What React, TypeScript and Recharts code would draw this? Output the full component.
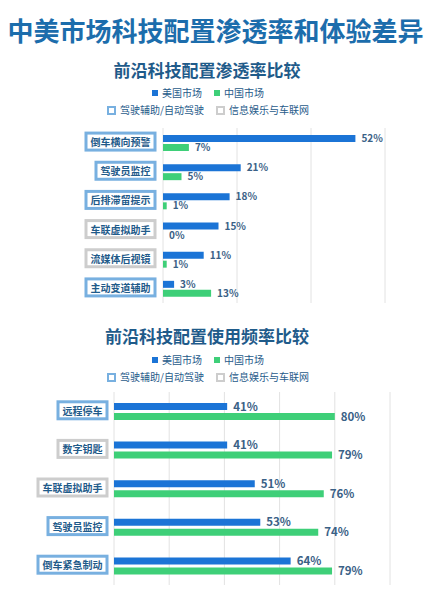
import React from "react"
import { BarChart, Bar, XAxis, YAxis, CartesianGrid, LabelList } from "recharts"

// 渗透率
const penetrationCats = ["倒车横向预警", "驾驶员监控", "后排滞留提示", "车联虚拟助手", "流媒体后视镜", "主动变道辅助"]
const penetrationTypes = ["adas", "adas", "adas", "info", "info", "adas"]
const penetrationUS = [52, 21, 18, 15, 11, 3]
const penetrationCN = [7, 5, 1, 0, 1, 13]
const penetrationTicks = [0, 20, 40, 60]

// 使用频率
const usageCats = ["远程停车", "数字钥匙", "车联虚拟助手", "驾驶员监控", "倒车紧急制动"]
const usageTypes = ["adas", "info", "info", "adas", "adas"]
const usageUS = [41, 41, 51, 53, 64]
const usageCN = [80, 79, 76, 74, 79]
const usageTicks = [0, 20, 40, 60, 80, 100]

const FONT = '"Noto Sans CJK SC", "Noto Sans", sans-serif'
const US_COLOR = "#1b74d6"
const CN_COLOR = "#3ecf78"
const TEXT_DARK = "#1f5b8a"

const toRows = (cats: string[], us: number[], cn: number[]) =>
  cats.map((name, i) => ({ name, us: us[i], cn: cn[i] }))

function BoxTick(props: any) {
  const { x, y, payload, cats, types, gap } = props
  const label: string = payload.value
  const type = types[cats.indexOf(label)]
  const w = label.length * 10 + 9
  const h = 17
  const right = x - gap
  return (
    <g>
      <rect
        x={right - w}
        y={y - h / 2 - 1}
        width={w}
        height={h}
        fill="#fff"
        stroke={type === "adas" ? "#78b0e0" : "#cdcdcd"}
        strokeWidth={3}
      />
      <text
        x={right - w / 2}
        y={y - 1}
        textAnchor="middle"
        dominantBaseline="central"
        fontSize={10}
        fontWeight="bold"
        fontFamily={FONT}
        fill={TEXT_DARK}
      >
        {label}
      </text>
    </g>
  )
}

function Legend({ top }: { top: number }) {
  const item = (color: string, label: string, outline?: boolean) => (
    <span style={{ display: "inline-flex", alignItems: "center", margin: "0 6px" }}>
      <span
        style={{
          display: "inline-block",
          width: outline ? 5 : 6,
          height: outline ? 5 : 6,
          background: outline ? "#fff" : color,
          border: outline ? `2px solid ${color}` : "none",
          marginRight: 4,
        }}
      />
      {label}
    </span>
  )
  const row: React.CSSProperties = {
    position: "absolute",
    left: 0,
    width: 416,
    display: "flex",
    justifyContent: "center",
    fontSize: 10,
    lineHeight: "14px",
    color: TEXT_DARK,
    fontFamily: FONT,
  }
  return (
    <>
      <div style={{ ...row, top: top - 7 }}>
        {item(US_COLOR, "美国市场")}
        {item(CN_COLOR, "中国市场")}
      </div>
      <div style={{ ...row, top: top + 10 }}>
        {item("#78b0e0", "驾驶辅助/自动驾驶", true)}
        {item("#cdcdcd", "信息娱乐与车联网", true)}
      </div>
    </>
  )
}

function Subtitle({ text, top }: { text: string; top: number }) {
  return (
    <div
      style={{
        position: "absolute",
        left: 0,
        width: 414,
        top: top - 11,
        textAlign: "center",
        fontSize: 17,
        lineHeight: "22px",
        fontWeight: "bold",
        color: TEXT_DARK,
        fontFamily: FONT,
      }}
    >
      {text}
    </div>
  )
}

export default function App() {
  const data1 = toRows(penetrationCats, penetrationUS, penetrationCN)
  const data2 = toRows(usageCats, usageUS, usageCN)

  return (
    <div style={{ position: "absolute", left: 0, top: 0, width: 431, height: 600, background: "#fff", fontFamily: FONT }}>
      <div
        style={{
          position: "absolute",
          left: 0,
          width: 431,
          top: 13,
          textAlign: "center",
          fontSize: 26,
          lineHeight: "34px",
          fontWeight: "bold",
          color: "#1c6dac",
          whiteSpace: "nowrap",
        }}
      >
        中美市场科技配置渗透率和体验差异
      </div>

      <Subtitle text="前沿科技配置渗透率比较" top={70} />
      <Legend top={93} />

      <div style={{ position: "absolute", left: 0, top: 120 }}>
        <BarChart
          width={431}
          height={190}
          data={data1}
          layout="vertical"
          margin={{ top: 8, right: 46, bottom: 7, left: 0 }}
          barSize={7}
          barGap={2}
        >
          <CartesianGrid horizontal={false} stroke="#e2e2e2" />
          <XAxis type="number" domain={[0, 60]} ticks={penetrationTicks} hide />
          <YAxis
            type="category"
            dataKey="name"
            width={163}
            axisLine={false}
            tickLine={false}
            tickSize={0}
            tickMargin={0}
            interval={0}
            tick={<BoxTick cats={penetrationCats} types={penetrationTypes} gap={8} />}
          />
          <Bar dataKey="us" fill={US_COLOR} isAnimationActive={false}>
            <LabelList
              dataKey="us"
              position="right"
              offset={6}
              formatter={(v: any) => `${v}%`}
              style={{ fontSize: 10, fontWeight: "bold", fill: "#3a6186", fontFamily: FONT }}
            />
          </Bar>
          <Bar dataKey="cn" fill={CN_COLOR} minPointSize={0.01} isAnimationActive={false}>
            <LabelList
              dataKey="cn"
              position="right"
              offset={6}
              formatter={(v: any) => `${v}%`}
              style={{ fontSize: 10, fontWeight: "bold", fill: "#3a6186", fontFamily: FONT }}
            />
          </Bar>
        </BarChart>
      </div>

      <Subtitle text="前沿科技配置使用频率比较" top={336} />
      <Legend top={360} />

      <div style={{ position: "absolute", left: 0, top: 384 }}>
        <BarChart
          width={431}
          height={210}
          data={data2}
          layout="vertical"
          margin={{ top: 8, right: 41, bottom: 9, left: 0 }}
          barSize={7}
          barGap={3}
        >
          <CartesianGrid horizontal={false} stroke="#e2e2e2" />
          <XAxis type="number" domain={[0, 100]} ticks={usageTicks} hide />
          <YAxis
            type="category"
            dataKey="name"
            width={114}
            axisLine={false}
            tickLine={false}
            tickSize={0}
            tickMargin={0}
            interval={0}
            tick={<BoxTick cats={usageCats} types={usageTypes} gap={7} />}
          />
          <Bar dataKey="us" fill={US_COLOR} isAnimationActive={false}>
            <LabelList
              dataKey="us"
              position="right"
              offset={6}
              formatter={(v: any) => `${v}%`}
              style={{ fontSize: 11.5, fontWeight: "bold", fill: "#3a6186", fontFamily: FONT }}
            />
          </Bar>
          <Bar dataKey="cn" fill={CN_COLOR} isAnimationActive={false}>
            <LabelList
              dataKey="cn"
              position="right"
              offset={6}
              formatter={(v: any) => `${v}%`}
              style={{ fontSize: 11.5, fontWeight: "bold", fill: "#3a6186", fontFamily: FONT }}
            />
          </Bar>
        </BarChart>
      </div>
    </div>
  )
}
